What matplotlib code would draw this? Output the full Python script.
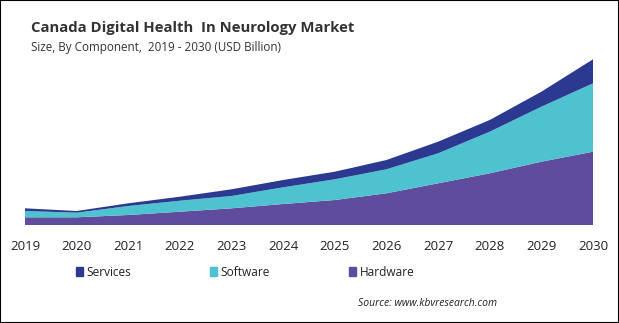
import matplotlib
matplotlib.use("Agg")
import matplotlib.pyplot as plt
from matplotlib.patches import Rectangle

years = [2019, 2020, 2021, 2022, 2023, 2024, 2025, 2026, 2027, 2028, 2029, 2030]
hardware = [0.077, 0.077, 0.100, 0.133, 0.167, 0.210, 0.250, 0.317, 0.417, 0.517, 0.633, 0.733]
software = [0.063, 0.046, 0.090, 0.110, 0.123, 0.167, 0.207, 0.240, 0.300, 0.416, 0.550, 0.684]
services = [0.027, 0.017, 0.027, 0.040, 0.067, 0.073, 0.076, 0.093, 0.116, 0.117, 0.150, 0.240]
labels = ["Hardware", "Software", "Services"]

colors = {
    "Services": "#2b3990",
    "Software": "#4ec3cf",
    "Hardware": "#5f4c9c",
}

W, H = 619, 323
fig = plt.figure(figsize=(W / 100, H / 100), dpi=100)
plt.rcParams["font.family"] = ["Open Sans", "DejaVu Sans"]

# axes placed in pixel terms: x 25..593, y 50..225
ax = fig.add_axes([25 / W, 1 - 225 / H, (593 - 25) / W, 175 / H])
ax.stackplot(
    years,
    hardware,
    software,
    services,
    colors=[colors[k] for k in labels],
    linewidth=0,
)
ax.set_xlim(2019, 2030)
ax.set_ylim(0, 1.75)
ax.set_yticks([])
ax.set_xticks(years)
ax.tick_params(axis="x", length=0, pad=11, labelsize=9.5, colors="#222222")
for spine in ax.spines.values():
    spine.set_visible(False)

fig.text(31 / W, 1 - 28 / H, "Canada Digital Health  In Neurology Market",
         fontsize=10.7, fontweight="bold", color="#333333", va="center", ha="left")
fig.text(31 / W, 1 - 48 / H, "Size, By Component,  2019 - 2030 (USD Billion)",
         fontsize=8.4, color="#333333", va="center", ha="left")

handles = [Rectangle((0, 0), 1, 1, color=colors[k]) for k in ["Services", "Software", "Hardware"]]
fig.legend(handles, ["Services", "Software", "Hardware"], loc="center",
           bbox_to_anchor=(245 / W, 1 - 272 / H), ncol=3, frameon=False,
           handlelength=0.6, handleheight=0.75, handletextpad=0.3,
           columnspacing=6.6, fontsize=8.6, labelcolor="#222222")

fig.text(497 / W, 1 - 303 / H, "Source: www.kbvresearch.com", fontsize=7.5,
         style="italic", color="#222222", ha="right", va="center")

fig.patches.append(Rectangle((0, 0), 1, 1, transform=fig.transFigure,
                             fill=False, edgecolor="black", linewidth=1.5))

plt.savefig("out.png", dpi=100)
plt.close()
